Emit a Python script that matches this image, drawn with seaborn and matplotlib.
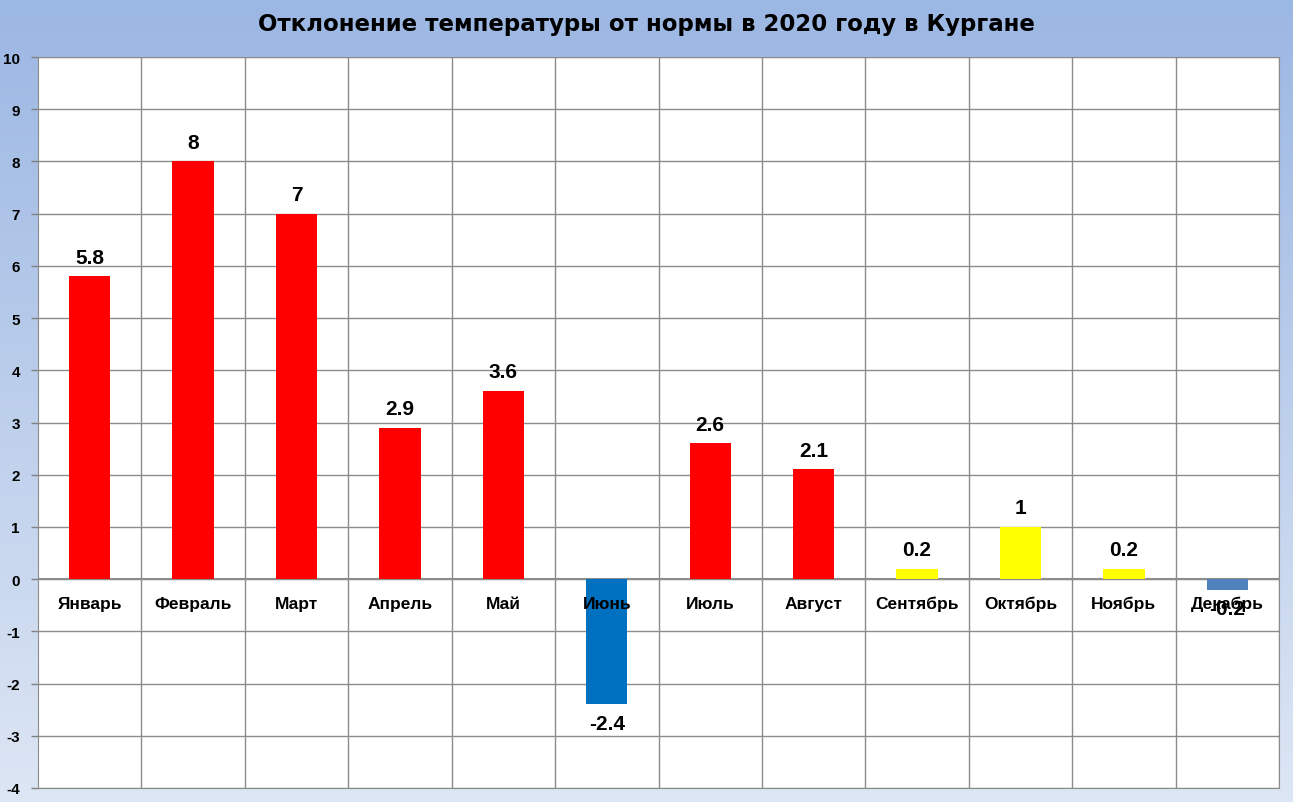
import numpy as np
import pandas as pd
import matplotlib
matplotlib.use("Agg")
import matplotlib.pyplot as plt
import matplotlib.transforms as mtransforms
import seaborn as sns

# Data
months = ["Январь", "Февраль", "Март", "Апрель", "Май", "Июнь",
          "Июль", "Август", "Сентябрь", "Октябрь", "Ноябрь", "Декабрь"]
deviation = [5.8, 8, 7, 2.9, 3.6, -2.4, 2.6, 2.1, 0.2, 1, 0.2, -0.2]
bar_colors = ["#FF0000", "#FF0000", "#FF0000", "#FF0000", "#FF0000", "#0070C0",
              "#FF0000", "#FF0000", "#FFFF00", "#FFFF00", "#FFFF00", "#4F81BD"]
value_labels = ["5.8", "8", "7", "2.9", "3.6", "-2.4", "2.6", "2.1", "0.2", "1", "0.2", "-0.2"]
title = "Отклонение температуры от нормы в 2020 году в Кургане"

df = pd.DataFrame({"month": months, "dev": deviation})

sns.set_style("white")
plt.rcParams["font.family"] = ["Liberation Sans", "DejaVu Sans"]
plt.rcParams["text.color"] = "black"
plt.rcParams["xtick.color"] = "black"
plt.rcParams["ytick.color"] = "black"

fig = plt.figure(figsize=(12.93, 8.03), dpi=100)

# Gradient background
bg = fig.add_axes([0, 0, 1, 1], zorder=0)
grad = np.linspace(0, 1, 256).reshape(-1, 1)
cmap = matplotlib.colors.LinearSegmentedColormap.from_list("bg", ["#9BB7E3", "#DDE6F4"])
bg.imshow(grad, aspect="auto", cmap=cmap, extent=[0, 1, 0, 1])
bg.axis("off")

W, H = 1293, 803
ax = fig.add_axes([38 / W, 1 - 789 / H, (1279 - 38) / W, (789 - 58) / H], zorder=1)
ax.set_facecolor("white")

sns.barplot(data=df, x="month", y="dev", hue="month", palette=bar_colors,
            width=0.4, legend=False, ax=ax, saturation=1, zorder=3,
            linewidth=0, edgecolor="none")

ax.set_ylim(-4, 10)
ax.set_xlim(-0.5, len(months) - 0.5)
ax.set_yticks(range(-4, 11))
ax.set_yticklabels([str(v) for v in range(-4, 11)], fontsize=11, fontweight="bold")
ax.tick_params(axis="y", length=5, width=1, color="#808080", labelcolor="black",
               pad=8, direction="out", left=True)

# Vertical grid between categories
ax.set_xticks(np.arange(len(months)) + 0.5, minor=True)
ax.grid(True, axis="y", color="#8C8C8C", linewidth=1, zorder=0)
ax.grid(True, axis="x", which="minor", color="#8C8C8C", linewidth=1, zorder=0)
ax.set_axisbelow(True)

ax.set_xticks(range(len(months)))
ax.set_xticklabels([])
ax.tick_params(axis="x", which="both", length=0)
ax.set_xlabel("")
ax.set_ylabel("")

for s in ["top", "right", "left", "bottom"]:
    ax.spines[s].set_color("#8C8C8C")
ax.axhline(0, color="#8C8C8C", linewidth=1.5, zorder=1)

# Month labels just below zero line, drawn above bars
trans = mtransforms.offset_copy(ax.transData, fig=fig, x=0, y=-24, units="dots")
for i, m in enumerate(months):
    ax.text(i, 0, m, transform=trans, ha="center", va="center",
            fontsize=12.5, fontweight="bold", color="black", zorder=6)

# Value labels
for i, (v, lab) in enumerate(zip(deviation, value_labels)):
    if v >= 0:
        ax.annotate(lab, (i, v), xytext=(0, 7), textcoords="offset points",
                    ha="center", va="bottom", fontsize=15, fontweight="bold",
                    color="black", zorder=5)
    else:
        ax.annotate(lab, (i, v), xytext=(0, -7), textcoords="offset points",
                    ha="center", va="top", fontsize=15, fontweight="bold",
                    color="black", zorder=5)

fig.text(0.5, 1 - 25 / H, title, ha="center", va="center", fontsize=16.5,
         fontweight="bold", family=["DejaVu Sans"], color="black")

fig.savefig("out.png", dpi=100)
